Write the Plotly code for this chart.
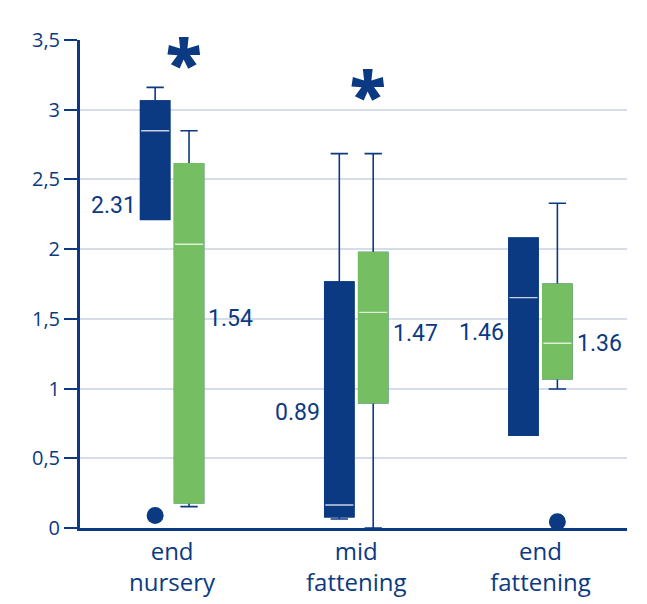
import plotly.graph_objects as go

# ---------------- data ----------------
categories = ["end<br>nursery", "mid<br>fattening", "end<br>fattening"]

blue_upper = [3.16, 2.685, 2.078]
blue_q3 = [3.062, 1.764, 2.078]
blue_median = [2.849, 0.165, 1.652]
blue_q1 = [2.214, 0.081, 0.667]
blue_lower = [2.214, 0.065, 0.667]
blue_mean = [2.31, 0.89, 1.46]

green_upper = [2.849, 2.685, 2.329]
green_q3 = [2.611, 1.975, 1.748]
green_median = [2.035, 1.547, 1.325]
green_q1 = [0.181, 0.899, 1.071]
green_lower = [0.153, 0.0, 0.997]
green_mean = [1.54, 1.47, 1.36]

outlier_group = [0, 2]
outlier_series = ["blue", "green"]
outlier_values = [0.09, 0.045]

star_group = [0, 1]
star_level = [3.39, 3.16]

y_ticks = [0, 0.5, 1, 1.5, 2, 2.5, 3, 3.5]

# ---------------- style ----------------
BLUE = "#0B3A82"
GREEN = "#75BE62"
GRID = "#D5DCEA"
BLUE_MED = "#C9D2E3"
GREEN_MED = "#DDEFD6"

pos = list(range(len(categories)))
off = 0.092
bw = 0.157
blue_x = [p - off for p in pos]
green_x = [p + off for p in pos]

fig = go.Figure()


def add_box(xs, lo, q1, med, q3, hi, fill, medcol):
    # whiskers (dark blue)
    fig.add_trace(go.Box(
        x=xs, q1=q1, median=med, q3=q3, lowerfence=lo, upperfence=hi,
        width=bw, whiskerwidth=0.6, fillcolor="rgba(0,0,0,0)",
        line=dict(color=BLUE, width=1.6), boxpoints=False,
        showlegend=False, hoverinfo="skip"))
    # filled box
    fig.add_trace(go.Box(
        x=xs, q1=q1, median=q1, q3=q3, lowerfence=q1, upperfence=q3,
        width=bw, whiskerwidth=0.6, fillcolor=fill,
        line=dict(color=fill, width=1.8), boxpoints=False,
        showlegend=False, hoverinfo="skip"))
    # median line
    fig.add_trace(go.Box(
        x=xs, q1=med, median=med, q3=med, lowerfence=med, upperfence=med,
        width=bw * 0.97, whiskerwidth=0.6, fillcolor="rgba(0,0,0,0)",
        line=dict(color=medcol, width=1.3), boxpoints=False,
        showlegend=False, hoverinfo="skip"))


add_box(blue_x, blue_lower, blue_q1, blue_median, blue_q3, blue_upper, BLUE, BLUE_MED)
add_box(green_x, green_lower, green_q1, green_median, green_q3, green_upper, GREEN, GREEN_MED)

# outliers
ox = [(blue_x if s == "blue" else green_x)[g] for g, s in zip(outlier_group, outlier_series)]
fig.add_trace(go.Scatter(
    x=ox, y=outlier_values, mode="markers",
    marker=dict(color=BLUE, size=17, line=dict(width=0)),
    showlegend=False, hoverinfo="skip", cliponaxis=False))

# significance stars
for g, lvl in zip(star_group, star_level):
    fig.add_annotation(x=green_x[g], y=lvl, text="*", showarrow=False,
                       xanchor="center", yanchor="middle", xshift=-6, yshift=-6,
                       font=dict(family="Open Sans", size=66, color=BLUE, weight=800))

# mean labels
VAL_FONT = dict(family="Roboto", size=23, color=BLUE)
blue_dy = [0, -9, -8]
green_dy = [-5, -10, -5]
for i in pos:
    fig.add_annotation(x=blue_x[i] - bw / 2, y=blue_mean[i], text=f"{blue_mean[i]:.2f}",
                       xanchor="right", yanchor="middle", xshift=-3, yshift=blue_dy[i],
                       showarrow=False, font=VAL_FONT)
    fig.add_annotation(x=green_x[i] + bw / 2, y=green_mean[i], text=f"{green_mean[i]:.2f}",
                       xanchor="left", yanchor="middle", xshift=3, yshift=green_dy[i],
                       showarrow=False, font=VAL_FONT)

fig.update_layout(
    width=647, height=604,
    margin=dict(l=72, r=28, t=32, b=84),
    paper_bgcolor="white", plot_bgcolor="white",
    separators=",.",
    font=dict(family="Open Sans", color=BLUE),
    showlegend=False,
    xaxis=dict(
        range=[-0.5, 2.47], tickmode="array", tickvals=pos, ticktext=categories,
        showgrid=False, zeroline=False, showline=True, linecolor=BLUE, linewidth=3,
        ticks="", automargin=False,
        tickfont=dict(family="Open Sans", size=24, color=BLUE),
    ),
    yaxis=dict(
        range=[0, 3.5], tickmode="array", tickvals=y_ticks,
        showgrid=True, gridcolor=GRID, gridwidth=1.5, zeroline=False,
        showline=True, linecolor=BLUE, linewidth=3, automargin=False,
        ticks="outside", ticklen=13, tickwidth=2, tickcolor=BLUE,
        tickfont=dict(family="Open Sans", size=20, color=BLUE),
    ),
)

fig.write_html("out.html")
